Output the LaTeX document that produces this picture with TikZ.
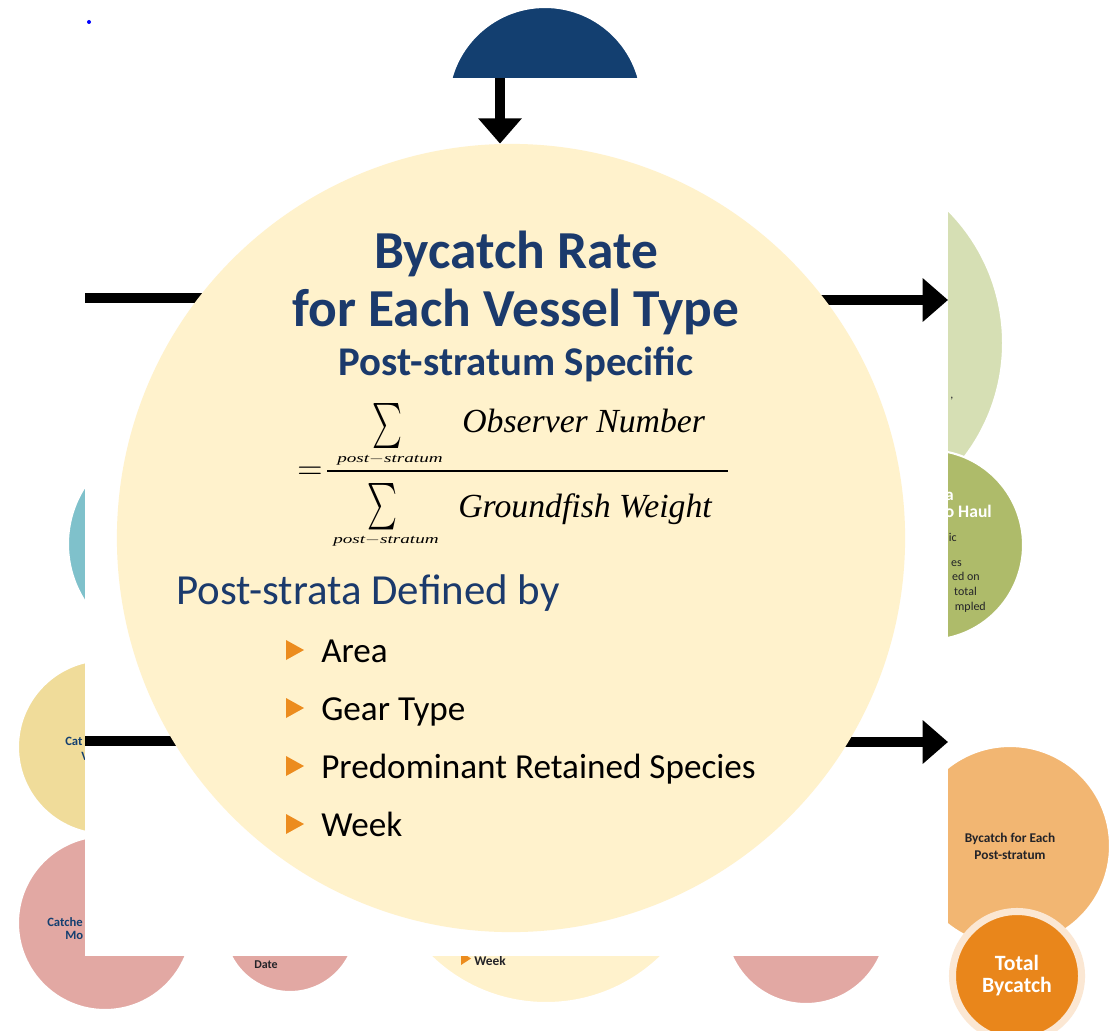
\documentclass[tikz,border=0pt]{standalone}
\usepackage{fontspec}
\setmainfont{Carlito}
\newfontfamily\formfont{Liberation Serif}
\usetikzlibrary{arrows.meta}
\definecolor{bycnavy}{RGB}{19, 63, 112}
\definecolor{bycink}{RGB}{27, 58, 108}
\definecolor{byccream}{RGB}{255, 242, 204}
\definecolor{bycsage}{RGB}{214, 223, 180}
\definecolor{bycolive}{RGB}{174, 187, 106}
\definecolor{bycteal}{RGB}{127, 193, 203}
\definecolor{bycsand}{RGB}{240, 220, 154}
\definecolor{bycrose}{RGB}{226, 168, 163}
\definecolor{bycpeach}{RGB}{242, 182, 114}
\definecolor{bycorange}{RGB}{233, 134, 27}
\definecolor{bycring}{RGB}{251, 231, 211}
\definecolor{bycbullet}{RGB}{236, 140, 30}
\definecolor{bycdark}{RGB}{35, 35, 40}
\newcommand{\bycsize}[2]{\fontsize{#1}{#2}\selectfont}

\begin{document}
\begin{tikzpicture}[x=0.025cm, y=-0.025cm, every node/.style={inner sep=0pt},
  blob/.style={circle, draw=white, line width=1.5pt},
  bar/.style={line width=7pt},
  arrow/.style={bar, -{Triangle[length=18pt, width=30pt]}},
  tiny/.style={font=\bfseries\bycsize{9pt}{11pt}, text=bycnavy},
  frag/.style={font=\bycsize{8.5pt}{10pt}, text=bycdark}]
\fill[white] (0,0) rectangle (1115,1030);
\useasboundingbox (0,0) rectangle (1115,1030);
\fill[blue] (89,22) circle[radius=2];

\node[blob, fill=bycnavy, minimum size=4.85cm] (navy) at (545,104) {};
\node[blob, fill=bycsage, minimum size=9.4cm] (sage) at (815,343) {};
\node[blob, fill=bycolive, minimum size=4.75cm] (olive) at (928,545) {};
\node[blob, fill=bycteal, minimum size=5.3cm] (teal) at (174,544) {};
\node[blob, fill=bycsand, minimum size=4.35cm] (sand) at (105,747) {};
\node[blob, fill=bycrose, minimum size=4.35cm] (roseleft) at (105,923) {};
\node[blob, fill=bycrose, minimum size=3.3cm] (rosemid) at (290,926) {};
\node[blob, fill=byccream, minimum size=8.25cm] (creamlow) at (546,838) {};
\node[blob, fill=bycrose, minimum size=4.05cm] (roseright) at (806,923) {};
\node[blob, fill=bycpeach, minimum size=5cm, align=center, font=\bfseries\bycsize{9.5pt}{12pt}, text=bycdark] (peach) at (1010,846) {Bycatch for Each\\Post-stratum};
\node[circle, fill=bycorange, draw=bycring, line width=5pt, minimum size=3.225cm, align=center, text=white, font=\bfseries\bycsize{15.5pt}{15.6pt}] (total) at (1017,976) {Total\\Bycatch};

\node[frag, anchor=base west] (sagecomma) at (950,398) {,};
\node[anchor=base east, text=white, font=\bfseries\bycsize{12pt}{14pt}] (olivea) at (954,500) {a};
\node[anchor=base east, text=white, font=\bfseries\bycsize{12.5pt}{14pt}] (olivehaul) at (992,517) {o Haul};
\node[frag, anchor=base east] (oliveic) at (957,541) {ic};
\node[frag, anchor=base east] (olivees) at (962,566) {es};
\node[frag, anchor=base east] (oliveon) at (980,580.5) {ed on};
\node[frag, anchor=base east] (olivetotal) at (977,595.5) {total};
\node[frag, anchor=base east] (olivemp) at (986,610) {mpled};
\node[tiny, anchor=base west] (sandcat) at (65,745) {Cat};
\node[tiny, anchor=base west] (sandv) at (81,760) {V};
\node[tiny, anchor=base west] (rosecatch) at (47,926) {Catche};
\node[tiny, anchor=base west] (rosemo) at (65,939) {Mo};
\node[anchor=base west, font=\bfseries\bycsize{8.5pt}{10pt}, text=bycdark] (rosedate) at (254,968) {Date};
\node[anchor=base west, font=\bfseries\bycsize{9.5pt}{11pt}, text=bycdark] (lowweek) at (474,965) {Week};
\fill[bycbullet] (461,952) -- (461,965) -- (471,958.5) -- cycle;

\fill[white] (85,78) rectangle (948,956);

\coordinate (cc) at (511,538);
\coordinate (navytip) at (500,78);
\coordinate (ltop) at (85,298);
\coordinate (lbot) at (85,741);
\coordinate (rtop) at (948,300);
\coordinate (rbot) at (948,742);
\draw[bar] (ltop) -- (ltop -| cc);
\draw[bar] (lbot) -- (lbot -| cc);
\draw[arrow] (rtop -| cc) -- (rtop);
\draw[arrow] (rbot -| cc) -- (rbot);
\node[circle, fill=byccream, minimum size=19.7cm] (cream) at (cc) {};
\draw[arrow] (navytip) -- (navytip |- cream.north);

\node[anchor=base, text=bycink, font=\bfseries\bycsize{38pt}{42pt}] (title) at (516,268) {Bycatch Rate};
\node[anchor=base, text=bycink, font=\bfseries\bycsize{38pt}{42pt}] (vessel) at (516,326) {for Each Vessel Type};
\node[anchor=base, text=bycink, font=\bfseries\bycsize{29pt}{32pt}] (specific) at (516,375) {Post-stratum Specific};

\node[anchor=base, font=\bycsize{23pt}{26pt}] (equal) at (310,479) {$=$};
\draw[line width=2.1pt] (327,471) coordinate (fracl) -- (728,471) coordinate (fracr);
\node[anchor=north west] (sumtop) at (372,403) {\resizebox*{21.3pt}{32pt}{$\sum$}};
\node[anchor=north] (subtop) at (390,455) {\resizebox*{75pt}{7.2pt}{\formfont\itshape post$-$stratum}};
\node[anchor=base west, font=\formfont\itshape\bycsize{24pt}{28pt}] (observer) at (462,432) {Observer Number};
\node[anchor=north west] (sumbot) at (367,483) {\resizebox*{21.3pt}{33pt}{$\sum$}};
\node[anchor=north] (subbot) at (386,536) {\resizebox*{75pt}{7.2pt}{\formfont\itshape post$-$stratum}};
\node[anchor=base west, font=\formfont\itshape\bycsize{24pt}{28pt}] (weight) at (458,517) {Groundfish Weight};

\node[anchor=base west, text=bycink, font=\bycsize{30.5pt}{34pt}] (defined) at (176,604) {Post-strata Defined by};
\foreach \lbl [count=\i] in {Area, Gear Type, Predominant Retained Species, Week} {
  \node[anchor=base west, font=\bycsize{25pt}{28pt}] (item\i) at (321,604+58*\i) {\lbl};
  \fill[bycbullet] (286,582+58*\i) -- (286,602+58*\i) -- (304,592+58*\i) -- cycle;
}
\end{tikzpicture}
\end{document}
